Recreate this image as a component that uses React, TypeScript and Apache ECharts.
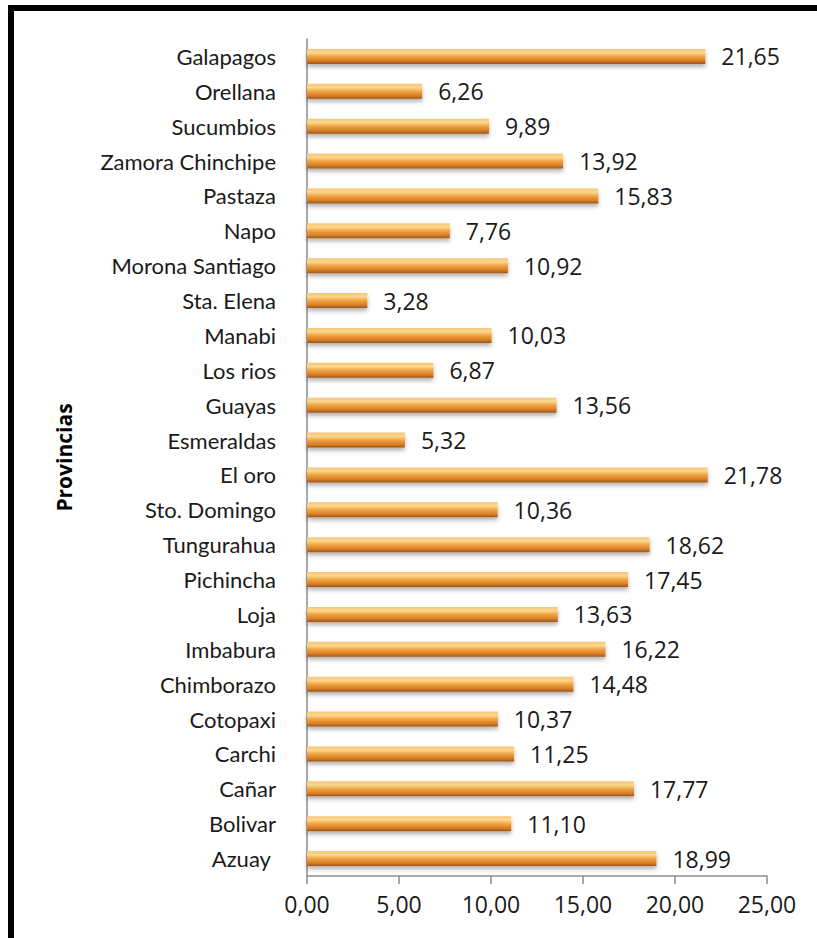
import React, { useEffect, useRef } from "react";
import * as echarts from "echarts";

const categories = [
  "Azuay ", "Bolivar", "Cañar", "Carchi", "Cotopaxi", "Chimborazo", "Imbabura", "Loja",
  "Pichincha", "Tungurahua", "Sto. Domingo", "El oro", "Esmeraldas", "Guayas", "Los rios",
  "Manabi", "Sta. Elena", "Morona Santiago", "Napo", "Pastaza", "Zamora Chinchipe",
  "Sucumbios", "Orellana", "Galapagos",
];
const values = [
  18.99, 11.1, 17.77, 11.25, 10.37, 14.48, 16.22, 13.63, 17.45, 18.62, 10.36, 21.78, 5.32,
  13.56, 6.87, 10.03, 3.28, 10.92, 7.76, 15.83, 13.92, 9.89, 6.26, 21.65,
];
const xTicks = [0, 5, 10, 15, 20, 25];
const axisTitle = "Provincias";

const fmt = (v: number) => v.toFixed(2).replace(".", ",");

export default function App() {
  const ref = useRef<HTMLDivElement>(null);
  useEffect(() => {
    document.body.style.margin = "0";
    const chart = echarts.init(ref.current!, null, { renderer: "svg" });
    const font = "'Open Sans', sans-serif";
    const catFont = "Lato, 'Open Sans', sans-serif";
    chart.setOption({
      animation: false,
      backgroundColor: "#ffffff",
      grid: { left: 307, right: 50, top: 39, bottom: 62, containLabel: false },
      xAxis: {
        type: "value",
        min: xTicks[0],
        max: xTicks[xTicks.length - 1],
        interval: 5,
        splitLine: { show: false },
        axisLine: { show: true, lineStyle: { color: "#8c8c8c", width: 1.5 } },
        axisTick: { show: true, length: 8, lineStyle: { color: "#8c8c8c", width: 1.5 } },
        axisLabel: {
          formatter: (v: number) => fmt(v),
          color: "#1a1a1a",
          fontSize: 23,
          fontFamily: font,
          margin: 16,
        },
      },
      yAxis: {
        type: "category",
        data: categories,
        name: axisTitle,
        nameLocation: "middle",
        nameGap: 233,
        nameRotate: 90,
        nameTextStyle: { fontSize: 21, fontWeight: "bold", color: "#000", fontFamily: font },
        axisLine: { show: true, lineStyle: { color: "#8c8c8c", width: 1.5 } },
        axisTick: { show: false },
        axisLabel: { color: "#1a1a1a", fontSize: 22, fontFamily: catFont, margin: 31 },
      },
      series: [
        {
          type: "bar",
          data: values,
          barWidth: 15,
          itemStyle: {
            color: new echarts.graphic.LinearGradient(0, 0, 0, 1, [
              { offset: 0, color: "#f7c37a" },
              { offset: 0.25, color: "#fbd98d" },
              { offset: 0.5, color: "#f1a444" },
              { offset: 0.8, color: "#d77e25" },
              { offset: 1, color: "#9c531b" },
            ]),
            shadowColor: "rgba(0,0,0,0.3)",
            shadowBlur: 4,
            shadowOffsetY: 3,
          },
          label: {
            show: true,
            position: "right",
            distance: 16,
            formatter: (p: any) => fmt(p.value),
            color: "#1a1a1a",
            fontSize: 23,
            fontFamily: font,
          },
        },
      ],
      graphic: [
        { type: "rect", shape: { x: 8, y: 5, width: 809, height: 6 }, style: { fill: "#000" } },
        { type: "rect", shape: { x: 8, y: 5, width: 6, height: 933 }, style: { fill: "#000" } },
      ],
    });
    return () => chart.dispose();
  }, []);
  return <div ref={ref} style={{ width: 817, height: 938 }} />;
}
